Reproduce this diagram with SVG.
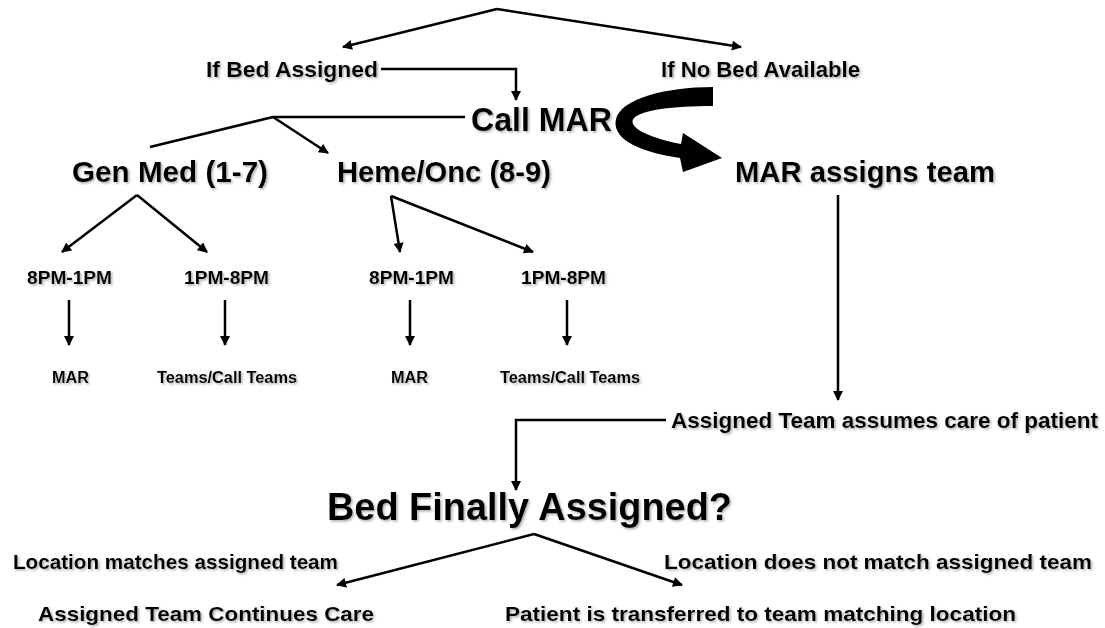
<svg xmlns="http://www.w3.org/2000/svg" width="1105" height="628" viewBox="0 0 1105 628">
<style>
text{font-family:"Liberation Sans",Arial,sans-serif;font-weight:bold;fill:#000;filter:url(#sh)}
.c{stroke:#000;stroke-width:2.5;fill:none}
.a{marker-end:url(#ah)}
</style>
<defs>
<filter id="sh" x="-5%" y="-20%" width="110%" height="150%"><feDropShadow dx="1.5" dy="1.5" stdDeviation="1" flood-color="#777" flood-opacity="0.6"/></filter>
<marker id="ah" viewBox="0 0 10 10" refX="9" refY="5" markerWidth="4.2" markerHeight="4" orient="auto" markerUnits="strokeWidth"><path d="M0,0 L10,5 L0,10 Z" fill="#000"/></marker>
</defs>
<rect width="1105" height="628" fill="#fff"/>
<g id="connectors">
<polyline class="c a" points="497,9 343,47"/>
<polyline class="c a" points="497,9 741,47"/>
<polyline class="c a" points="381,69 516,69 516,100"/>
<polyline class="c" points="465,117 273,117 150,147"/>
<polyline class="c a" points="273,117 328,153"/>
<path d="M713,87 L713,106 C672,106 642,110 634,118 C627,126 645,137 681,144 L683,133 L722,158 L683,172 L680,158 C632,151 612,136 616,119 C621,99 665,87 713,87 Z" fill="#000"/>
<polyline class="c a" points="137,195 62,252"/>
<polyline class="c a" points="137,195 207,252"/>
<polyline class="c a" points="391,196 400,252"/>
<polyline class="c a" points="391,196 533,252"/>
<polyline class="c a" points="69,300 69,345"/>
<polyline class="c a" points="225,300 225,345"/>
<polyline class="c a" points="410,300 410,345"/>
<polyline class="c a" points="567,300 567,345"/>
<polyline class="c a" points="838,195 838,400"/>
<polyline class="c a" points="666,420 516,420 516,490"/>
<polyline class="c a" points="534,534 337,585"/>
<polyline class="c a" points="534,534 682,585"/>
</g>
<g id="n-bed-assigned"><text x="206" y="77" font-size="22" textLength="172" lengthAdjust="spacingAndGlyphs">If Bed Assigned</text></g>
<g id="n-no-bed"><text x="661" y="77" font-size="22" textLength="199" lengthAdjust="spacingAndGlyphs">If No Bed Available</text></g>
<g id="n-call-mar"><text x="471" y="131" font-size="33" textLength="141" lengthAdjust="spacingAndGlyphs">Call MAR</text></g>
<g id="n-gen-med"><text x="72" y="182" font-size="30" textLength="196" lengthAdjust="spacingAndGlyphs">Gen Med (1-7)</text></g>
<g id="n-heme"><text x="337" y="182" font-size="30" textLength="214" lengthAdjust="spacingAndGlyphs">Heme/Onc (8-9)</text></g>
<g id="n-mar-assigns"><text x="735" y="182" font-size="30" textLength="260" lengthAdjust="spacingAndGlyphs">MAR assigns team</text></g>
<g id="n-gm-8to1"><text x="27" y="284" font-size="18" textLength="85" lengthAdjust="spacingAndGlyphs">8PM-1PM</text></g>
<g id="n-gm-1to8"><text x="184" y="284" font-size="18" textLength="85" lengthAdjust="spacingAndGlyphs">1PM-8PM</text></g>
<g id="n-ho-8to1"><text x="369" y="284" font-size="18" textLength="85" lengthAdjust="spacingAndGlyphs">8PM-1PM</text></g>
<g id="n-ho-1to8"><text x="521" y="284" font-size="18" textLength="85" lengthAdjust="spacingAndGlyphs">1PM-8PM</text></g>
<g id="n-gm-mar"><text x="52" y="383" font-size="16" textLength="37" lengthAdjust="spacingAndGlyphs">MAR</text></g>
<g id="n-gm-teams"><text x="157" y="383" font-size="16" textLength="140" lengthAdjust="spacingAndGlyphs">Teams/Call Teams</text></g>
<g id="n-ho-mar"><text x="391" y="383" font-size="16" textLength="37" lengthAdjust="spacingAndGlyphs">MAR</text></g>
<g id="n-ho-teams"><text x="500" y="383" font-size="16" textLength="140" lengthAdjust="spacingAndGlyphs">Teams/Call Teams</text></g>
<g id="n-assumes"><text x="671" y="428" font-size="22" textLength="427" lengthAdjust="spacingAndGlyphs">Assigned Team assumes care of patient</text></g>
<g id="n-bed-finally"><text x="327" y="520" font-size="39" textLength="405" lengthAdjust="spacingAndGlyphs">Bed Finally Assigned?</text></g>
<g id="n-loc-match"><text x="13" y="569" font-size="21" textLength="325" lengthAdjust="spacingAndGlyphs">Location matches assigned team</text></g>
<g id="n-loc-nomatch"><text x="664" y="569" font-size="21" textLength="428" lengthAdjust="spacingAndGlyphs">Location does not match assigned team</text></g>
<g id="n-continues"><text x="38" y="621" font-size="21" textLength="336" lengthAdjust="spacingAndGlyphs">Assigned Team Continues Care</text></g>
<g id="n-transfer"><text x="505" y="621" font-size="21" textLength="511" lengthAdjust="spacingAndGlyphs">Patient is transferred to team matching location</text></g>
</svg>
